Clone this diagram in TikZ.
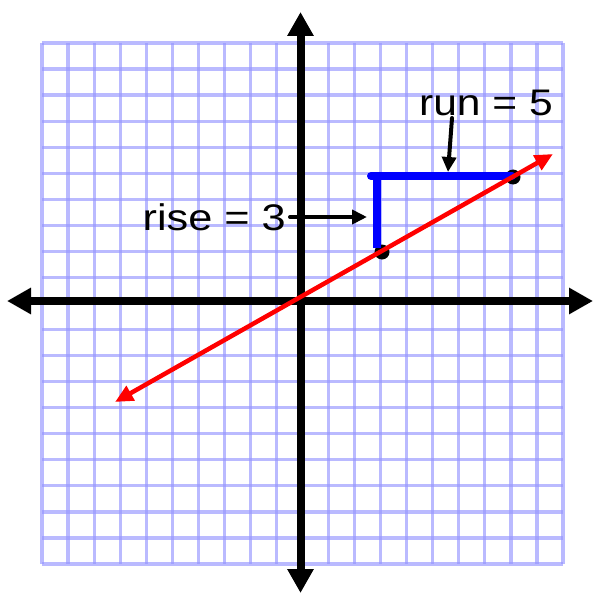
\documentclass[tikz,border=0pt]{standalone}
\usepackage{fontspec}
\setmainfont{Liberation Sans}
\usetikzlibrary{arrows.meta}
\definecolor{gridblue}{RGB}{150,150,255}
\definecolor{ptred}{RGB}{255,0,0}
\definecolor{ptblue}{RGB}{0,0,255}
\begin{document}
\begin{tikzpicture}[x=1bp,y=-1bp,
  gridline/.style={draw=gridblue,line width=3.2bp,opacity=0.65},
  axisline/.style={line width=8bp,-{Triangle[width=25bp,length=24bp]}},
  redline/.style={draw=ptred,line width=4.5bp,{Triangle[width=16bp,length=18bp]}-{Triangle[width=16bp,length=18bp]}},
  bluebar/.style={draw=ptblue,line width=8bp},
  pointer/.style={line width=4bp,line cap=round,-{Triangle[width=14bp,length=15bp]}},
  dot/.style={circle,fill=black,minimum size=15bp,inner sep=0pt},
  lbl/.style={inner sep=0pt,font=\fontsize{37bp}{42bp}\selectfont}
]
\useasboundingbox (0,0) rectangle (594,595);
\fill[white] (0,0) rectangle (594,595);
% grid
\foreach \i in {0,...,20}{
  \draw[gridline] ({42+26.05*\i},43) -- ({42+26.05*\i},564);
  \draw[gridline] (42,{43+26.05*\i}) -- (563,{43+26.05*\i});
}
% axes
\coordinate (xl) at (7,301);
\coordinate (xr) at (593,301);
\coordinate (yt) at (300.5,12);
\coordinate (yb) at (300.5,593);
\coordinate (o) at (300.5,301);
\draw[axisline] (o) -- (xr);
\draw[axisline] (o) -- (xl);
\draw[axisline] (o) -- (yt);
\draw[axisline] (o) -- (yb);
% points
\node[dot] (p1) at (382,252) {};
\node[dot] (p2) at (513,177) {};
% blue rise/run
\coordinate (c) at (377,176);
\coordinate (cl) at (371,176);
\coordinate (vb) at (377,248);
\coordinate (he) at (512,176);
\draw[bluebar] (vb) -- (c);
\draw[bluebar,line cap=round] (cl) -- (he);
% red line
\coordinate (rl) at (115,402);
\coordinate (rr) at (553,154);
\draw[redline] (rl) -- (rr);
% labels
\node[lbl,anchor=base east] (rise) at (286,230) {\scalebox{1.17}[1]{rise = 3}};
\node[lbl,anchor=base east] (run) at (553,116) {\scalebox{1.15}[1]{run = 5}};
\coordinate (ra) at (290,217);
\coordinate (rb) at (367,217);
\draw[pointer] (ra) -- (rb);
\coordinate (na) at (452,118);
\coordinate (nb) at (448,172);
\draw[pointer] (na) -- (nb);
\end{tikzpicture}
\end{document}
